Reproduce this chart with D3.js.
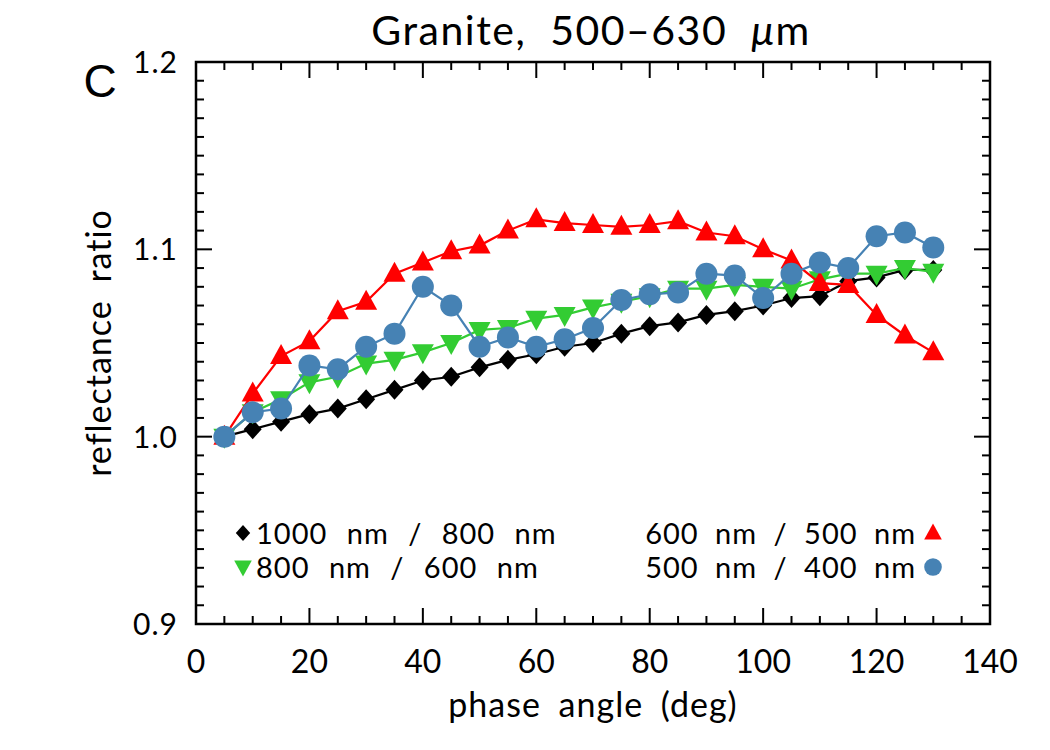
<!DOCTYPE html>
<html>
<head>
<meta charset="utf-8">
<script src="https://cdn.jsdelivr.net/npm/d3@7"></script>
<style>
  body { margin: 0; background: #fff; }
  text { font-family: Lato, "DejaVu Sans", sans-serif; fill: #000; }
</style>
</head>
<body>
<svg id="chart"></svg>
<script>
// phase angles (deg)
var angles = [5, 10, 15, 20, 25, 30, 35, 40, 45, 50, 55, 60, 65, 70, 75, 80, 85, 90, 95, 100, 105, 110, 115, 120, 125, 130];

// reflectance ratios
var r1000_800 = [1.000, 1.004, 1.008, 1.012, 1.015, 1.020, 1.025, 1.030, 1.032, 1.037, 1.041, 1.044, 1.048, 1.050, 1.055, 1.059, 1.061, 1.065, 1.067, 1.070, 1.074, 1.075, 1.083, 1.085, 1.089, 1.089];
var r800_600  = [1.000, 1.013, 1.020, 1.029, 1.032, 1.039, 1.041, 1.045, 1.050, 1.057, 1.058, 1.063, 1.065, 1.069, 1.072, 1.075, 1.079, 1.079, 1.081, 1.080, 1.079, 1.084, 1.087, 1.087, 1.090, 1.088];
var r600_500  = [1.000, 1.023, 1.043, 1.051, 1.067, 1.072, 1.087, 1.093, 1.099, 1.102, 1.110, 1.116, 1.114, 1.113, 1.112, 1.113, 1.115, 1.109, 1.107, 1.100, 1.094, 1.082, 1.081, 1.065, 1.054, 1.045];
var r500_400  = [1.000, 1.013, 1.015, 1.038, 1.036, 1.048, 1.055, 1.080, 1.070, 1.048, 1.053, 1.048, 1.052, 1.058, 1.073, 1.076, 1.077, 1.087, 1.086, 1.074, 1.087, 1.093, 1.090, 1.107, 1.109, 1.101];

var xTicks = [0, 20, 40, 60, 80, 100, 120, 140];
var yTicks = [0.9, 1.0, 1.1, 1.2];

var series = [
  { name: "1000 nm / 800 nm", values: r1000_800, color: "#000000", symbol: "diamond" },
  { name: "800 nm / 600 nm",  values: r800_600,  color: "#33cc33", symbol: "down" },
  { name: "600 nm / 500 nm",  values: r600_500,  color: "#ff0000", symbol: "up" },
  { name: "500 nm / 400 nm",  values: r500_400,  color: "#4682b4", symbol: "circle" }
];

var margin = { top: 62, right: 60, bottom: 126, left: 196 },
    width = 990 - margin.left,
    height = 624 - margin.top;

var svg = d3.select("#chart")
    .attr("width", 1050)
    .attr("height", 750);

var g = svg.append("g")
    .attr("transform", "translate(" + margin.left + "," + margin.top + ")");

var x = d3.scaleLinear().domain([0, 140]).range([0, width]);
var y = d3.scaleLinear().domain([0.9, 1.2]).range([height, 0]);

// marker shapes
function markerPath(sym) {
  if (sym == "diamond") return "M0,-10L9,0L0,10L-9,0Z";
  if (sym == "up") return "M0,-12L11,8L-11,8Z";
  if (sym == "down") return "M0,12L11,-8L-11,-8Z";
  return null;
}

function drawMarker(sel, sym, color) {
  if (sym == "circle") {
    sel.append("circle").attr("r", 11).attr("fill", color);
  } else {
    sel.append("path").attr("d", markerPath(sym)).attr("fill", color);
  }
}

// lines + points
var line = d3.line()
    .x(function (d, i) { return x(angles[i]); })
    .y(function (d) { return y(d); });

series.forEach(function (s) {
  g.append("path")
    .datum(s.values)
    .attr("fill", "none")
    .attr("stroke", s.color)
    .attr("stroke-width", 2.2)
    .attr("d", line);

  s.values.forEach(function (v, i) {
    var m = g.append("g")
      .attr("transform", "translate(" + x(angles[i]) + "," + y(v) + ")");
    drawMarker(m, s.symbol, s.color);
  });
});

// frame and ticks
var minorX = d3.range(0, 141, 5), minorY = d3.range(0, 31).map(function (i) { return 0.9 + i * 0.01; });

function isMajorX(v) { return v % 20 == 0; }
function isMajorY(v) { return Math.abs(Math.round(v * 10) - v * 10) < 1e-6; }

var ticks = g.append("g").attr("stroke", "#000").attr("stroke-width", 2);
minorX.forEach(function (v) {
  var len = isMajorX(v) ? 16 : 8;
  ticks.append("line").attr("x1", x(v)).attr("x2", x(v)).attr("y1", height).attr("y2", height - len);
  ticks.append("line").attr("x1", x(v)).attr("x2", x(v)).attr("y1", 0).attr("y2", len);
});
minorY.forEach(function (v) {
  var len = isMajorY(v) ? 16 : 8;
  ticks.append("line").attr("x1", 0).attr("x2", len).attr("y1", y(v)).attr("y2", y(v));
  ticks.append("line").attr("x1", width).attr("x2", width - len).attr("y1", y(v)).attr("y2", y(v));
});

g.append("rect")
  .attr("width", width).attr("height", height)
  .attr("fill", "none").attr("stroke", "#000").attr("stroke-width", 2.5);

// tick labels
g.selectAll(".xl").data(xTicks).enter().append("text")
  .attr("x", function (d) { return x(d); })
  .attr("y", height + 49)
  .attr("text-anchor", "middle")
  .style("font-size", "32px")
  .text(function (d) { return d; });

g.selectAll(".yl").data(yTicks).enter().append("text")
  .attr("x", -18)
  .attr("y", function (d) { return y(d) + 11; })
  .attr("text-anchor", "end")
  .style("font-size", "30px")
  .style("letter-spacing", "1px")
  .text(function (d) { return d3.format(".1f")(d); });

// titles
svg.append("text")
  .attr("x", 591).attr("y", 45)
  .attr("text-anchor", "middle")
  .style("font-size", "41px")
  .style("word-spacing", "12px")
  .style("letter-spacing", "1.5px")
  .html('Granite, 500\u2013630 <tspan font-style="italic">\u03bc</tspan>m');

svg.append("text")
  .attr("x", 100).attr("y", 97)
  .attr("text-anchor", "middle")
  .style("font-family", "Liberation Sans, Arial, sans-serif")
  .style("font-size", "46px")
  .text("C");

svg.append("text")
  .attr("x", 593).attr("y", 717)
  .attr("text-anchor", "middle")
  .style("font-size", "34px")
  .style("word-spacing", "8px")
  .style("letter-spacing", "1px")
  .text("phase angle (deg)");

svg.append("text")
  .attr("transform", "translate(111," + (margin.top + height / 2) + ") rotate(-90)")
  .attr("text-anchor", "middle")
  .style("font-size", "34px")
  .style("word-spacing", "8px")
  .style("letter-spacing", "1px")
  .text("reflectance ratio");

// legend
var legend = [
  { s: series[0], x: 243, y: 533, side: "left" },
  { s: series[1], x: 243, y: 567, side: "left" },
  { s: series[2], x: 933, y: 533, side: "right" },
  { s: series[3], x: 933, y: 567, side: "right" }
];

legend.forEach(function (l) {
  var m = svg.append("g").attr("transform", "translate(" + l.x + "," + l.y + ") scale(0.8)");
  drawMarker(m, l.s.symbol, l.s.color);
  svg.append("text")
    .attr("x", l.side == "left" ? l.x + 13 : l.x - 17)
    .attr("y", l.y + 11)
    .attr("text-anchor", l.side == "left" ? "start" : "end")
    .style("font-size", "29px")
    .style("word-spacing", l.side == "left" ? "11px" : "8px")
    .style("letter-spacing", "1px")
    .text(l.s.name);
});
</script>
</body>
</html>
